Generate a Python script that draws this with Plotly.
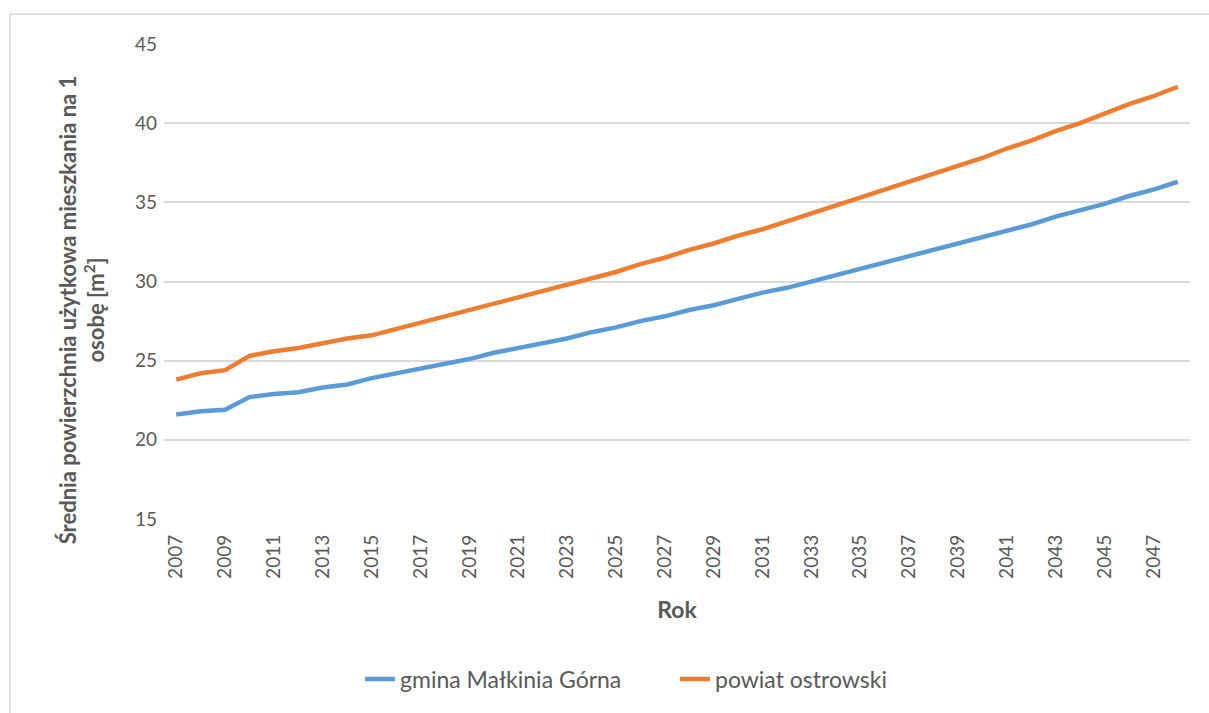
import plotly.graph_objects as go

years = list(range(2007, 2049))

gmina = [21.6, 21.8, 21.9, 22.7, 22.9, 23.0, 23.3, 23.5, 23.9, 24.2,
         24.5, 24.8, 25.1, 25.5, 25.8, 26.1, 26.4, 26.8, 27.1, 27.5,
         27.8, 28.2, 28.5, 28.9, 29.3, 29.6, 30.0, 30.4, 30.8, 31.2,
         31.6, 32.0, 32.4, 32.8, 33.2, 33.6, 34.1, 34.5, 34.9, 35.4,
         35.8, 36.3]

powiat = [23.8, 24.2, 24.4, 25.3, 25.6, 25.8, 26.1, 26.4, 26.6, 27.0,
          27.4, 27.8, 28.2, 28.6, 29.0, 29.4, 29.8, 30.2, 30.6, 31.1,
          31.5, 32.0, 32.4, 32.9, 33.3, 33.8, 34.3, 34.8, 35.3, 35.8,
          36.3, 36.8, 37.3, 37.8, 38.4, 38.9, 39.5, 40.0, 40.6, 41.2,
          41.7, 42.3]

series_names = ["gmina Małkinia Górna", "powiat ostrowski"]
series_colors = ["#5b9bd5", "#ed7d31"]

x_ticks = list(range(2007, 2048, 2))
y_ticks = [15, 20, 25, 30, 35, 40, 45]

y_title = "<b>Średnia powierzchnia użytkowa mieszkania na 1<br>osobę [m<sup>2</sup>]</b>"

FONT = "Lato, 'Open Sans', sans-serif"
GREY = "#595959"

W, H = 1209, 713
L, R, T, B = 164, 19, 44, 191
PW, PH = W - L - R, H - T - B


def px_x(p):
    return (p - L) / PW


def px_y(p):
    return (H - B - p) / PH


fig = go.Figure()
for name, vals, col in zip(series_names, [gmina, powiat], series_colors):
    fig.add_trace(go.Scatter(
        x=years, y=vals, name=name, mode="lines",
        line=dict(color=col, width=4.5),
    ))

fig.update_layout(
    width=W, height=H,
    margin=dict(l=L, r=R, t=T, b=B),
    paper_bgcolor="white", plot_bgcolor="white",
    font=dict(family=FONT, color=GREY, size=19),
    showlegend=True,
    legend=dict(
        orientation="h", x=px_x(360), xanchor="left",
        y=px_y(683), yanchor="middle",
        font=dict(family=FONT, size=23, color=GREY),
        entrywidth=270, entrywidthmode="pixels",
    ),
    xaxis=dict(
        range=[2006.5, 2048.5], tickmode="array", tickvals=x_ticks,
        ticktext=[str(v) for v in x_ticks], tickangle=-90,
        showgrid=False, zeroline=False, showline=False, ticks="",
        tickfont=dict(family=FONT, size=19, color=GREY),
        ticklabelstandoff=11,
        title=dict(text="<b>Rok</b>", font=dict(family=FONT, size=23, color=GREY), standoff=24),
    ),
    yaxis=dict(
        range=[15, 45], tickmode="array", tickvals=y_ticks,
        showgrid=True, gridcolor="#d9d9d9", gridwidth=1.5,
        zeroline=False, showline=False, ticks="",
        tickfont=dict(family=FONT, size=19, color=GREY),
        ticklabelstandoff=6,
    ),
    annotations=[dict(
        text=y_title, textangle=-90, showarrow=False,
        xref="paper", yref="paper", x=px_x(82), y=px_y(312),
        xanchor="center", yanchor="middle", align="center",
        font=dict(family=FONT, size=22, color=GREY),
    )],
    shapes=[dict(
        type="rect", xref="paper", yref="paper",
        x0=px_x(10), x1=px_x(1225), y0=px_y(730), y1=px_y(14),
        line=dict(color="#d9d9d9", width=1.5), fillcolor="rgba(0,0,0,0)",
        layer="below",
    )],
)

fig.write_html("out.html")
